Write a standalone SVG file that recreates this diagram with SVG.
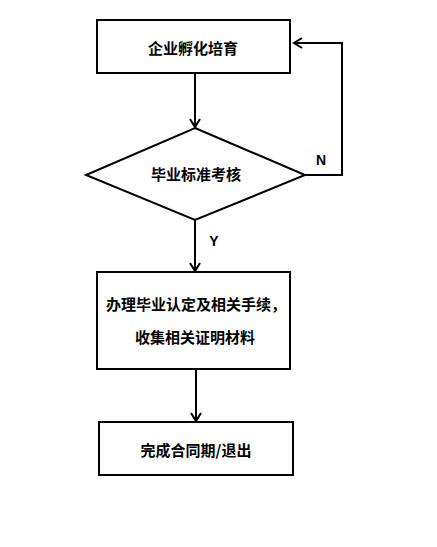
<svg xmlns="http://www.w3.org/2000/svg" width="437" height="547" viewBox="0 0 437 547">
<style>
.box{fill:#fff;stroke:#000;stroke-width:2}
.ln{fill:none;stroke:#000;stroke-width:2}
.t{font-family:"Noto Sans CJK SC","Liberation Sans",sans-serif;font-size:15px;font-weight:bold;fill:#000;text-anchor:middle;dominant-baseline:central}
.lbl{font-family:"Liberation Sans",sans-serif;font-size:14px;font-weight:bold;fill:#000;text-anchor:middle;dominant-baseline:central}
</style>
<defs>
<marker id="arr" markerWidth="12" markerHeight="12" refX="10" refY="6" orient="auto" markerUnits="userSpaceOnUse">
<path d="M2,1 L10,6 L2,11" fill="none" stroke="#000" stroke-width="2"/>
</marker>
</defs>
<rect width="437" height="547" fill="#fff"/>
<g id="connectors">
<line class="ln" x1="195" y1="73" x2="195" y2="127" marker-end="url(#arr)"/>
<polyline class="ln" points="305,175 342,175 342,43 294,43" marker-end="url(#arr)"/>
<line class="ln" x1="195" y1="220" x2="195" y2="271" marker-end="url(#arr)"/>
<line class="ln" x1="196" y1="369" x2="196" y2="421" marker-end="url(#arr)"/>
<text class="lbl" x="321" y="160">N</text>
<text class="lbl" x="214" y="241">Y</text>
</g>
<g id="node1">
<rect class="box" x="97" y="20" width="193" height="53"/>
<text class="t" x="193" y="47">企业孵化培育</text>
</g>
<g id="node2">
<polygon class="box" points="195,128 305,175 195,220 86,175"/>
<text class="t" x="196" y="173">毕业标准考核</text>
</g>
<g id="node3">
<rect class="box" x="97" y="272" width="193" height="97"/>
<text class="t" x="196" y="303">办理毕业认定及相关手续，</text>
<text class="t" x="195" y="336">收集相关证明材料</text>
</g>
<g id="node4">
<rect class="box" x="99" y="422" width="194" height="53"/>
<text class="t" x="196" y="449">完成合同期/退出</text>
</g>
</svg>
